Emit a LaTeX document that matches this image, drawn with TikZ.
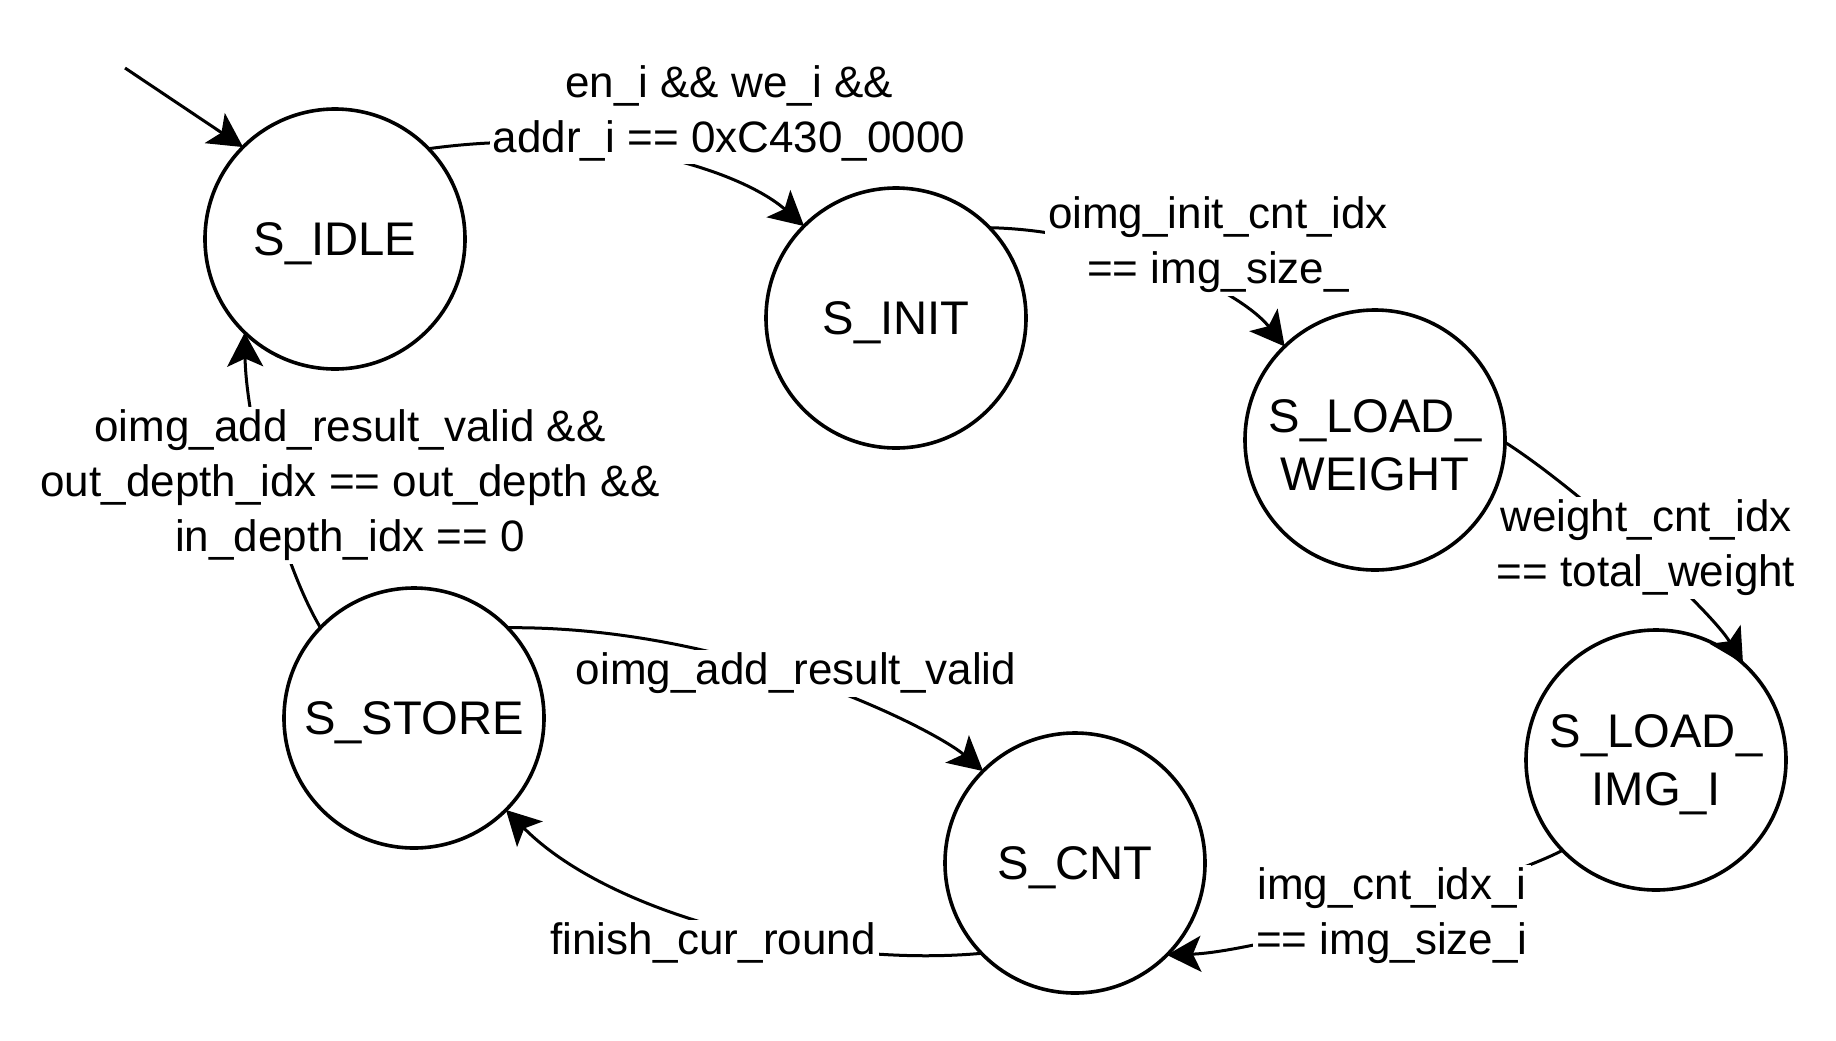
\documentclass[tikz,border=0pt]{standalone}
\usepackage{fontspec}
\setmainfont{Liberation Sans}
\usetikzlibrary{arrows.meta}
\newcommand{\dn}[1]{\raisebox{-2.5pt}[\height][\depth]{#1}}
\begin{document}
\begin{tikzpicture}[x=0.5pt,y=-0.5pt,
  state/.style={circle,draw,line width=1.8pt,minimum size=130pt,inner sep=0pt,outer sep=0pt,
    align=center,font=\fontsize{23.6}{29}\selectfont},
  edge/.style={line width=1.5pt,-{Stealth[length=17pt,width=18pt,inset=4pt]}},
  lbl/.style={fill=white,inner sep=1.5pt,align=center,font=\fontsize{22}{27.5}\selectfont}]
\useasboundingbox (0,0) rectangle (1836,1040);

\node[state] (idle)  at (335,239) {\dn{S\_IDLE}};
\node[state] (init)  at (896,318) {\dn{S\_INIT}};
\node[state] (lw)    at (1375,440) {\dn{S\_LOAD\_}\\\dn{WEIGHT}};
\node[state] (img)   at (1656,760) {\dn{S\_LOAD\_}\\\dn{IMG\_I}};
\node[state] (cnt)   at (1075,863) {\dn{S\_CNT}};
\node[state] (store) at (414,718) {\dn{S\_STORE}};
\coordinate (start) at (125,68);

\draw[edge] (start) -- (idle.135);
\draw[edge] (idle.44) .. controls (600,125) and (740,170) .. (init.135);
\draw[edge] (init.44) .. controls (1110,230) and (1238,288) .. (lw.134);
\draw[edge] (lw.-1) .. controls (1577,488) and (1709,608) .. (img.48);
\draw[edge] (img.224) .. controls (1501,883) and (1259,952) .. (cnt.-45);
\draw[edge] (cnt.224) .. controls (820,968) and (610,915) .. (store.-45);
\draw[edge] (store.44) .. controls (735,626) and (935,730) .. (cnt.135);
\draw[edge] (store.136) .. controls (280,560) and (246,420) .. (idle.226);

\node[lbl] (l1) at (729,113) {en\_i \&\& we\_i \&\&\\addr\_i == 0xC430\_0000};
\node[lbl] (l2) at (1218,245) {oimg\_init\_cnt\_idx\\== img\_size\_};
\node[lbl] (l3) at (1646,548) {weight\_cnt\_idx\\== total\_weight};
\node[lbl] (l4) at (1392,916) {img\_cnt\_idx\_i\\== img\_size\_i};
\node[lbl] (l5) at (713,943) {finish\_cur\_round};
\node[lbl] (l6) at (796,673) {oimg\_add\_result\_valid};
\node[lbl] (l7) at (350,485) {oimg\_add\_result\_valid \&\&\\out\_depth\_idx == out\_depth \&\&\\in\_depth\_idx == 0};
\end{tikzpicture}
\end{document}
